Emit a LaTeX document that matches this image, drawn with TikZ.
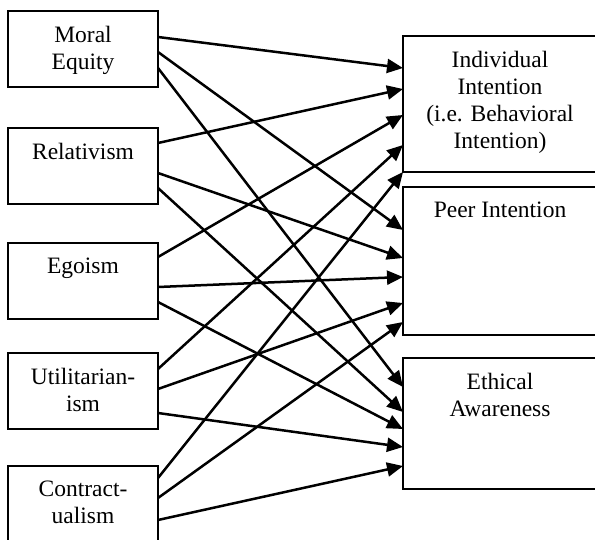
\documentclass[tikz,border=0pt]{standalone}
\usepackage{fontspec}
\setmainfont{Liberation Serif}
\usetikzlibrary{positioning,arrows.meta}

\begin{document}
\begin{tikzpicture}[node distance=40pt]
\tikzstyle{factor} = [rectangle, draw, line width=2.2pt, minimum width=150pt, minimum height=76pt, inner sep=0pt, outer sep=0pt]
\tikzstyle{outcome} = [rectangle, draw, line width=2.2pt, minimum width=194pt, inner sep=0pt, outer sep=0pt]
\tikzstyle{boxtext} = [font=\fontsize{23.5}{27}\selectfont, align=center, anchor=north, inner sep=0pt, yshift=-15pt]
\tikzstyle{link} = [-{Triangle[length=16pt,width=14pt]}, line width=2.5pt]

\useasboundingbox (0pt,0pt) rectangle (595pt,-540pt);

% Ethical judgement dimensions on the left
\node [factor, label={[boxtext]north:{Moral\\Equity}}] (moralEquity) at (83pt,-49pt) {};
\node [factor, below=41pt of moralEquity, label={[boxtext]north:{Relativism}}] (relativism) {};
\node [factor, below=39pt of relativism, label={[boxtext]north:{Egoism}}] (egoism) {};
\node [factor, below=34pt of egoism, label={[boxtext]north:{Utilitarian-\\ism}}] (utilitarianism) {};
\node [factor, below=37pt of utilitarianism, label={[boxtext]north:{Contract-\\ualism}}] (contractualism) {};

% Outcomes on the right
\node [outcome, minimum height=136pt, label={[boxtext]north:{Individual\\Intention\\(i.e. Behavioral\\Intention)}}] (individualIntention) at (500pt,-104pt) {};
\node [outcome, minimum height=148pt, below=15pt of individualIntention, label={[boxtext]north:{Peer Intention}}] (peerIntention) {};
\node [outcome, minimum height=131pt, below=23pt of peerIntention, label={[boxtext]north:{Ethical\\Awareness}}] (ethicalAwareness) {};

% Moral Equity
\draw [link] ([yshift=-26pt]moralEquity.north east) -- ([yshift=-32pt]individualIntention.north west);
\draw [link] ([yshift=-41pt]moralEquity.north east) -- ([yshift=-43pt]peerIntention.north west);
\draw [link] ([yshift=-57pt]moralEquity.north east) -- ([yshift=-29pt]ethicalAwareness.north west);

% Relativism
\draw [link] ([yshift=-15pt]relativism.north east) -- ([yshift=-53pt]individualIntention.north west);
\draw [link] ([yshift=-45pt]relativism.north east) -- ([yshift=-71pt]peerIntention.north west);
\draw [link] ([yshift=-60pt]relativism.north east) -- ([yshift=-54pt]ethicalAwareness.north west);

% Egoism
\draw [link] ([yshift=-14pt]egoism.north east) -- ([yshift=-79pt]individualIntention.north west);
\draw [link] ([yshift=-44pt]egoism.north east) -- ([yshift=-90pt]peerIntention.north west);
\draw [link] ([yshift=-59pt]egoism.north east) -- ([yshift=-71pt]ethicalAwareness.north west);

% Utilitarianism
\draw [link] ([yshift=-16pt]utilitarianism.north east) -- ([yshift=-109pt]individualIntention.north west);
\draw [link] ([yshift=-36pt]utilitarianism.north east) -- ([yshift=-116pt]peerIntention.north west);
\draw [link] ([yshift=-60pt]utilitarianism.north east) -- ([yshift=-89pt]ethicalAwareness.north west);

% Contractualism
\draw [link] ([yshift=-12pt]contractualism.north east) -- (individualIntention.south west);
\draw [link] ([yshift=-32pt]contractualism.north east) -- ([yshift=-135pt]peerIntention.north west);
\draw [link] ([yshift=-54pt]contractualism.north east) -- ([yshift=-108pt]ethicalAwareness.north west);

\end{tikzpicture}
\end{document}
